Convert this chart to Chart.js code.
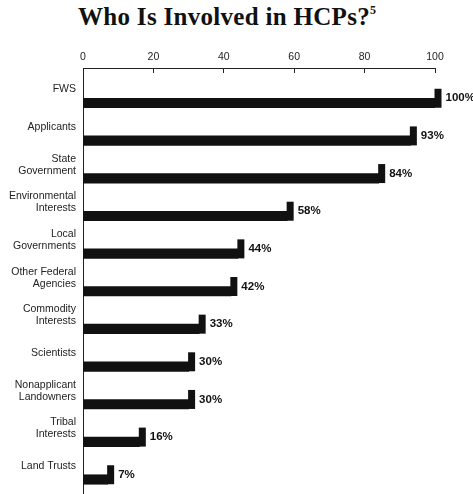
<!DOCTYPE html>
<html>
<head>
<meta charset="utf-8">
<script src="https://cdn.jsdelivr.net/npm/chart.js@4/dist/chart.umd.min.js"></script>
<style>
    html, body { margin: 0; padding: 0; background: #fff; }
    #wrap { position: relative; width: 473px; height: 494px; }
    #title {
        position: absolute; left: 78px; top: 4px; margin: 0;
        font: bold 25px "Liberation Serif", "DejaVu Serif", serif;
        line-height: 1; letter-spacing: 0.3px; color: #111; white-space: nowrap;
    }
    #title sup { font-size: 12px; vertical-align: 11px; line-height: 0; }
    canvas { position: absolute; left: 0; top: 0; }
</style>
</head>
<body>
<div id="wrap">
    <h1 id="title">Who Is Involved in HCPs?<sup>5</sup></h1>
    <canvas id="hcpChart" width="473" height="494"></canvas>
</div>
<script>
// categories, top to bottom
const categories = [
    'FWS',
    'Applicants',
    ['State', 'Government'],
    ['Environmental', 'Interests'],
    ['Local', 'Governments'],
    ['Other Federal', 'Agencies'],
    ['Commodity', 'Interests'],
    'Scientists',
    ['Nonapplicant', 'Landowners'],
    ['Tribal', 'Interests'],
    'Land Trusts'
];
const percents = [100, 93, 84, 58, 44, 42, 33, 30, 30, 16, 7];
const xTicks = [0, 20, 40, 60, 80, 100];

const ink = '#111';

// the little raised tab at the end of each bar + the % label
const tabPlugin = {
    id: 'tabs',
    afterDatasetsDraw(chart) {
        const ctx = chart.ctx;
        const meta = chart.getDatasetMeta(0);
        ctx.save();
        ctx.fillStyle = ink;
        ctx.font = 'bold 11.5px "Liberation Sans", Arial, sans-serif';
        ctx.textBaseline = 'middle';
        ctx.textAlign = 'left';
        meta.data.forEach((bar, i) => {
            const p = bar.getProps(['x', 'y', 'height'], true);
            const bottom = p.y + p.height / 2;
            ctx.fillRect(p.x - 0.5, bottom - 19, 7, 19);
            ctx.fillText(percents[i] + '%', p.x + 10.5, bottom - 9.5);
        });
        ctx.restore();
    }
};

new Chart(document.getElementById('hcpChart'), {
    type: 'bar',
    data: {
        datasets: [{
            data: percents.map((v, i) => ({ x: v, y: i })),
            backgroundColor: ink,
            borderWidth: 0,
            barThickness: 9.5
        }]
    },
    options: {
        indexAxis: 'y',
        responsive: false,
        animation: false,
        layout: { padding: { top: 0, right: 38, bottom: 0, left: 0 } },
        plugins: {
            legend: { display: false },
            tooltip: { enabled: false }
        },
        scales: {
            x: {
                type: 'linear',
                position: 'top',
                min: 0,
                max: 100,
                afterBuildTicks: (scale) => { scale.ticks = xTicks.map(v => ({ value: v })); },
                afterFit: (scale) => { scale.height = 68; },
                border: { display: true, color: '#222', width: 1 },
                grid: { drawOnChartArea: false, drawTicks: true, tickLength: -5, color: '#222' },
                ticks: {
                    padding: 10,
                    color: '#222',
                    font: { family: '"Liberation Sans", Arial, sans-serif', size: 10.5 }
                }
            },
            y: {
                type: 'linear',
                position: 'left',
                reverse: true,
                offset: false,
                min: -0.93,
                max: 10.385,
                afterBuildTicks: (scale) => { scale.ticks = categories.map((c, i) => ({ value: i })); },
                afterFit: (scale) => {
                    scale.width = 83;
                    scale.paddingTop = 0;
                    scale.paddingBottom = 0;
                },
                border: { display: true, color: '#222', width: 1 },
                grid: { display: false, drawTicks: false },
                ticks: {
                    autoSkip: false,
                    padding: 7,
                    labelOffset: -13.5,
                    color: '#222',
                    font: { family: '"Liberation Sans", Arial, sans-serif', size: 10.5, lineHeight: 1.15 },
                    callback: (value, index) => categories[index]
                }
            }
        }
    },
    plugins: [tabPlugin]
});
</script>
</body>
</html>
